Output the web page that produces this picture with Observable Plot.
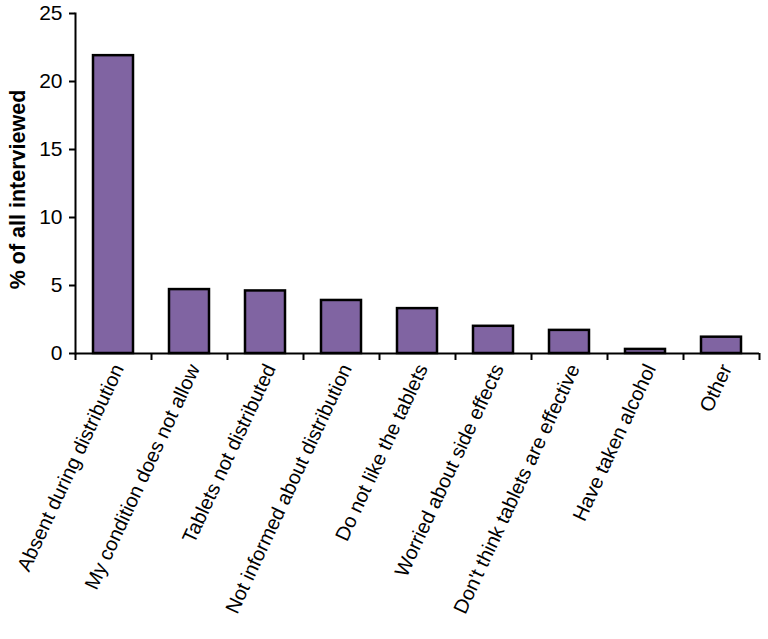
<!DOCTYPE html>
<html>
<head>
<meta charset="utf-8">
<script src="https://cdn.jsdelivr.net/npm/d3@7"></script>
<script src="https://cdn.jsdelivr.net/npm/@observablehq/plot@0.6"></script>
<style>
  html, body { margin: 0; padding: 0; background: #fff; }
</style>
</head>
<body>
<div id="chart"></div>
<script>
const categories = [
  "Absent during distribution",
  "My condition does not allow",
  "Tablets not distributed",
  "Not informed about distribution",
  "Do not like the tablets",
  "Worried about side effects",
  "Don't think tablets are effective",
  "Have taken alcohol",
  "Other"
];
const values = [21.9, 4.7, 4.6, 3.9, 3.3, 2.0, 1.7, 0.3, 1.2];
const yTicks = [0, 5, 10, 15, 20, 25];
const yTitle = "% of all interviewed";

const data = categories.map((c, i) => ({category: c, value: values[i]}));

const width = 768, height = 639;
const marginLeft = 75, marginRight = 9, marginTop = 13, marginBottom = 286;
const step = (width - marginLeft - marginRight) / categories.length;

const chart = Plot.plot({
  width, height, marginLeft, marginRight, marginTop, marginBottom,
  style: {fontFamily: "'Liberation Sans', Arial, sans-serif", color: "#000", background: "#fff"},
  x: {domain: categories, paddingInner: 0.47, paddingOuter: 0.235, label: null},
  y: {domain: [0, 25], label: null},
  marks: [
    Plot.barY(data, {x: "category", y: "value", fill: "#8064a2", stroke: "#000", strokeWidth: 2.5}),
    Plot.ruleY([0], {stroke: "#000", strokeWidth: 2}),
    Plot.frame({anchor: "left", stroke: "#000", strokeWidth: 2}),
    Plot.axisY({ticks: yTicks, tickSize: 6, tickPadding: 7, fontSize: 21, strokeWidth: 2, label: null}),
    Plot.axisX({ticks: categories, tickSize: 7, tickFormat: () => "", dx: -step / 2, strokeWidth: 2, label: null}),
    Plot.axisX({ticks: [categories[categories.length - 1]], tickSize: 7, tickFormat: () => "", dx: step / 2, strokeWidth: 2, label: null}),
    Plot.axisX({tickSize: 0, tickPadding: 12, tickRotate: -65, fontSize: 20, dx: 5, label: null}),
    Plot.text([yTitle], {frameAnchor: "left", rotate: -90, dx: -57, dy: 6, textAnchor: "middle", fontSize: 21.5, fontWeight: "bold", fill: "#000"})
  ]
});
document.getElementById("chart").appendChild(chart);
</script>
</body>
</html>
